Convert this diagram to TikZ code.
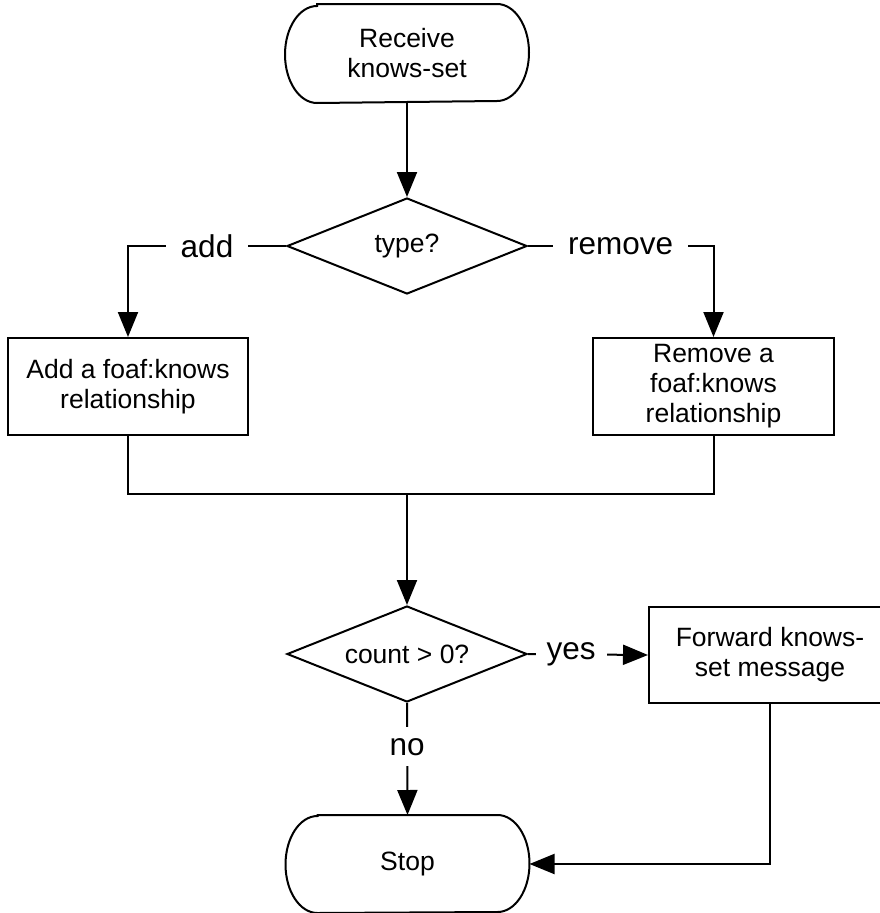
\documentclass[tikz,border=0pt]{standalone}
\usepackage{fontspec}
\setmainfont{Liberation Sans}
\usetikzlibrary{shapes.geometric,arrows.meta}
\newcommand\stadiumpath[1]{%
  \draw[line width=2pt] ([xshift=32pt]#1.north west) -- ([xshift=-32pt]#1.north east)
    arc[start angle=90,end angle=-90,x radius=32pt,y radius=48.5pt]
    -- ([xshift=32pt]#1.south west)
    arc[start angle=270,end angle=90,x radius=32pt,y radius=48.5pt] -- cycle;}
\begin{document}
\begin{tikzpicture}[x=1pt,y=-1pt,
  line width=2pt,
  base/.style={inner sep=0pt, align=center, font=\fontsize{26.5}{30}\selectfont},
  procbox/.style={base, draw, line width=2pt, rectangle, minimum width=240pt, minimum height=97pt},
  decision/.style={base, draw, line width=2pt, diamond, aspect=2.5, minimum width=240pt, minimum height=96pt},
  terminal/.style={base, draw=none, rectangle, minimum width=242pt, minimum height=97pt},
  arr/.style={-{Triangle[length=25pt,width=20pt]}, line width=2pt},
  lbl/.style={fill=white, inner xsep=15pt, inner ysep=3pt, font=\fontsize{31.5}{36}\selectfont},
]
\fill[white] (0,0) rectangle (880,913);
\useasboundingbox (0,0) rectangle (880,913);

\node[terminal] (start) at (407,53.5) {Receive\\knows-set};
\stadiumpath{start}
\node[decision] (type) at (407,246) {type?};
\node[procbox] (add) at (128,386.5) {Add a foaf:knows\\relationship};
\node[procbox, minimum width=241pt] (rem) at (713.5,386.5) {Remove a\\foaf:knows\\relationship};
\node[decision] (count) at (407,654) {count > 0?};
\node[procbox, minimum width=242pt, minimum height=96pt] (fwd) at (770,655) {Forward knows-\\set message};
\node[terminal, minimum height=96pt] (stop) at (407.5,864) {Stop};
\stadiumpath{stop}

\coordinate (j) at (407,494);

\draw[arr] (start) -- (type);
\draw[arr] (type.west) -| node[lbl, pos=0.25]{add} (add.north);
\draw[arr] (type.east) -| node[lbl, pos=0.25]{remove} (rem.north);
\draw (add.south) |- (j) -| (rem.south);
\draw[arr] (j) -- (count.north);
\draw[arr] (count.east) -- node[lbl, pos=0.36, inner xsep=11pt]{yes} (fwd.west);
\draw[arr] (count.south) -- node[lbl, pos=0.39, inner ysep=11pt, inner xsep=4pt]{no} (stop.north);
\draw[arr] (fwd.south) |- (stop.east);
\end{tikzpicture}
\end{document}
